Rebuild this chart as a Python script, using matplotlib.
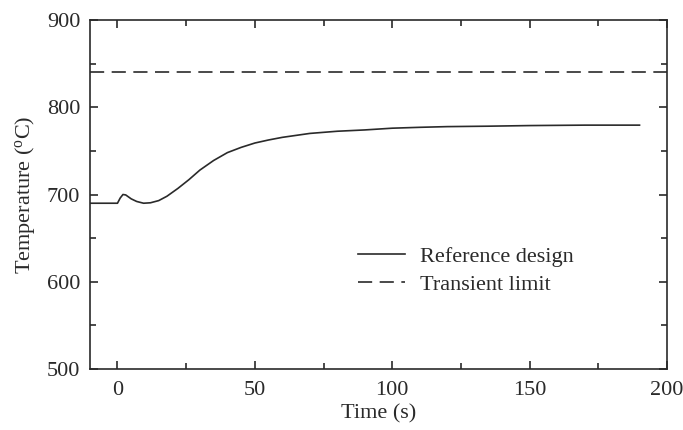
import matplotlib
matplotlib.use("Agg")
import matplotlib.pyplot as plt
from matplotlib.ticker import MultipleLocator

# Transient temperature response of the reference design
time_s = [-10, 0, 1, 2, 3, 5, 7, 9.5, 12, 15, 18, 22, 26, 30, 35, 40, 45,
          50, 55, 60, 70, 80, 90, 100, 110, 120, 135, 150, 170, 190]
temp_c = [690, 690, 696, 700, 699.5, 695, 692, 690, 690.5, 693, 698, 707,
          717, 728, 739, 748, 754, 759, 762.5, 765.5, 770, 772.5, 774,
          776, 777, 777.8, 778.3, 779, 779.5, 779.5]

transient_limit = 840
x_limits = (-10, 200)
y_limits = (500, 900)
x_ticks = [0, 50, 100, 150, 200]
y_ticks = [500, 600, 700, 800, 900]

plt.rcParams["font.family"] = ["Liberation Serif", "DejaVu Serif"]
plt.rcParams["mathtext.fontset"] = "custom"
plt.rcParams["mathtext.rm"] = "Liberation Serif"

ink = "#2a2a2a"
fs = 16
fig = plt.figure(figsize=(6.83, 4.30), dpi=100)
ax = fig.add_axes([90 / 683, 61 / 430, 577 / 683, 349 / 430])

ax.plot(time_s, temp_c, color=ink, lw=1.2, label="Reference design")
ax.plot(x_limits, [transient_limit, transient_limit], color=ink, lw=1.2,
        dashes=(8.5, 4.5), label="Transient limit")

ax.set_xlim(*x_limits)
ax.set_ylim(*y_limits)
ax.set_xticks(x_ticks)
ax.set_yticks(y_ticks)
ax.xaxis.set_minor_locator(MultipleLocator(25))
ax.yaxis.set_minor_locator(MultipleLocator(50))
ax.tick_params(which="both", direction="in", top=True, right=True,
               colors=ink, labelsize=fs, width=1.2)
ax.tick_params(which="major", length=6, pad=7)
ax.tick_params(axis="x", which="major", pad=8.5)
ax.tick_params(which="minor", length=4.5)
for spine in ax.spines.values():
    spine.set_color(ink)
    spine.set_linewidth(1.2)

ax.set_xlabel("Time (s)", fontsize=fs, color=ink, labelpad=3)
ax.set_ylabel(r"Temperature ($\mathregular{^o}$C)", fontsize=fs, color=ink,
              labelpad=7)

leg = ax.legend(loc="upper left", bbox_to_anchor=(0.449, 0.377), frameon=False,
                fontsize=fs, handlelength=2.1, handletextpad=0.7,
                labelspacing=0.35, borderaxespad=0)
for txt in leg.get_texts():
    txt.set_color(ink)

fig.savefig("out.png", dpi=100)
